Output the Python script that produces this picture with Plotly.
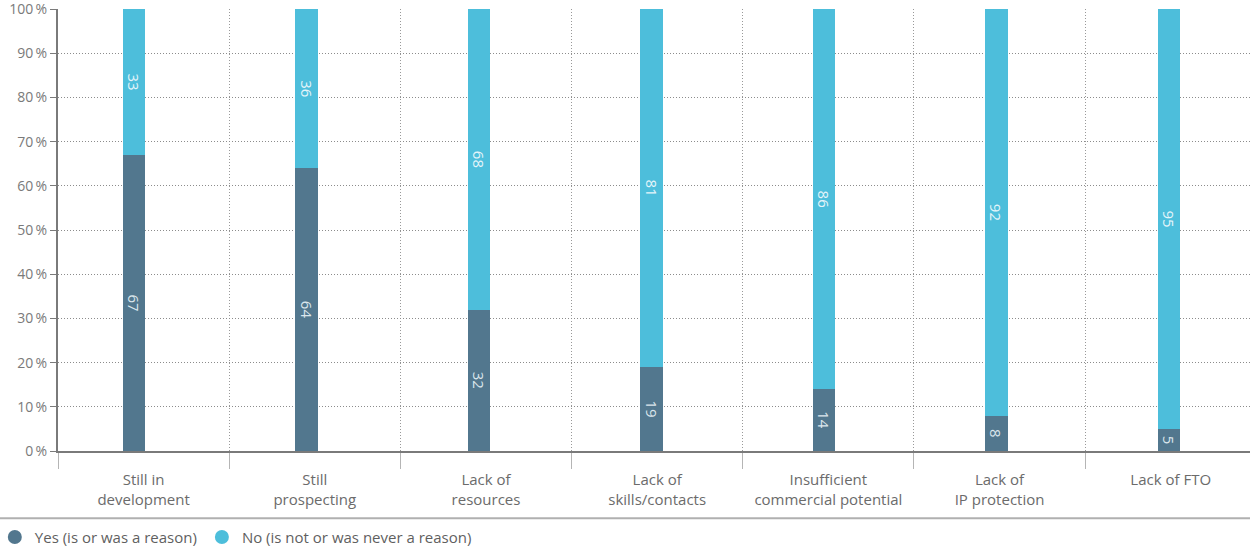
import plotly.graph_objects as go

categories = ["Still in<br>development", "Still<br>prospecting", "Lack of<br>resources",
              "Lack of<br>skills/contacts", "Insufficient<br>commercial potential",
              "Lack of<br>IP protection", "Lack of FTO"]
yes_vals = [67, 64, 32, 19, 14, 8, 5]
no_vals = [33, 36, 68, 81, 86, 92, 95]
tick_vals = [0, 10, 20, 30, 40, 50, 60, 70, 80, 90, 100]
tick_text = [f"{v}\u2009%" for v in tick_vals]

YES_C = "#52778E"
NO_C = "#4DBEDB"
FONT = "Open Sans"
GRID_DASH = "1px,2px"

n = len(categories)
fig = go.Figure()
fig.add_trace(go.Bar(x=categories, y=yes_vals, name="Yes (is or was a reason)",
                     marker=dict(color=YES_C, line=dict(width=0)), width=0.133,
                     text=[str(v) for v in yes_vals], textposition="inside",
                     insidetextanchor="middle", textangle=90, constraintext="none",
                     textfont=dict(color="#dbe6ec", size=15, family=FONT),
                     showlegend=False, hoverinfo="skip"))
fig.add_trace(go.Bar(x=categories, y=no_vals, name="No (is not or was never a reason)",
                     marker=dict(color=NO_C, line=dict(width=0)), width=0.133,
                     text=[str(v) for v in no_vals], textposition="inside",
                     insidetextanchor="middle", textangle=90, constraintext="none",
                     textfont=dict(color="#e4f5fa", size=15, family=FONT),
                     showlegend=False, hoverinfo="skip"))
# legend entries with circle markers
fig.add_trace(go.Scatter(x=[None], y=[None], mode="markers", name="Yes (is or was a reason)",
                         xaxis="x2", marker=dict(color=YES_C, size=14, symbol="circle")))
fig.add_trace(go.Scatter(x=[None], y=[None], mode="markers", name="No (is not or was never a reason)",
                         xaxis="x2", marker=dict(color=NO_C, size=14, symbol="circle")))

fig.update_layout(
    barmode="stack",
    width=1252, height=552,
    margin=dict(l=58, r=2, t=9, b=101, autoexpand=False),
    plot_bgcolor="white", paper_bgcolor="white",
    font=dict(family=FONT, color="#6b6b6b"),
    legend=dict(orientation="h", x=-0.053, xanchor="left", y=-0.195, yanchor="middle",
                bgcolor="rgba(0,0,0,0)",
                font=dict(size=15, color="#5f5f5f"), itemsizing="trace", traceorder="normal",
                itemwidth=30, tracegroupgap=0),
    # axis carrying the bars
    xaxis=dict(type="category", range=[-0.4406, 6.4696], showticklabels=False,
               showgrid=False, ticks="", showline=False, automargin=False, fixedrange=True),
    # axis carrying category labels and cell dividers
    xaxis2=dict(overlaying="x", anchor="y", side="bottom", range=[-0.5, 6.463],
                tickvals=list(range(n)), ticktext=categories, ticks="outside", ticklen=0,
                showgrid=False, ticklabelstandoff=14,
                minor=dict(tickvals=[i - 0.5 for i in range(n + 1)], ticks="outside",
                           ticklen=16, tickcolor="#b5b5b5", tickwidth=1, showgrid=True,
                           gridcolor="#999999", griddash=GRID_DASH, gridwidth=1),
                showline=True, linecolor="#7a7a7a", linewidth=2, automargin=False,
                zeroline=False, tickfont=dict(size=15, color="#6b6b6b"), fixedrange=True),
    yaxis=dict(range=[0, 100.05], tickvals=tick_vals, ticktext=tick_text,
               ticks="outside", ticklen=6, tickcolor="#7a7a7a", tickwidth=1,
               showgrid=True, gridcolor="#8c8c8c", griddash=GRID_DASH, gridwidth=1,
               showline=True, linecolor="#7a7a7a", linewidth=2, automargin=False,
               ticklabeloverflow="allow",
               tickfont=dict(size=14, color="#7a7a7a"), zeroline=False),
    shapes=[dict(type="line", xref="paper", yref="paper", x0=-0.05, x1=1.0,
                 y0=-0.152, y1=-0.152, layer="above",
                 line=dict(color="#b0b0b0", width=2))],
)
fig.write_html("out.html")
